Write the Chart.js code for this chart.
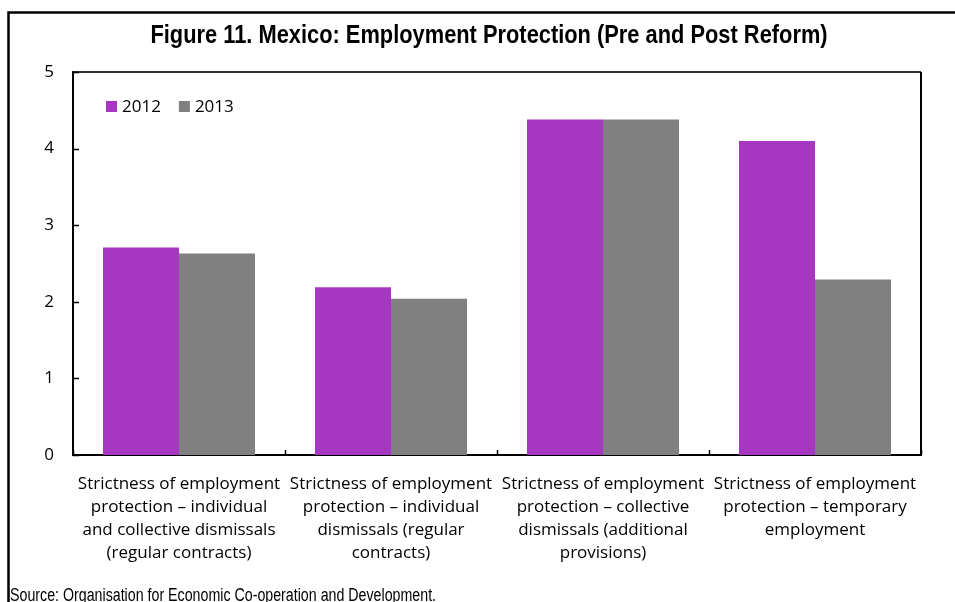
<!DOCTYPE html>
<html>
<head>
<meta charset="utf-8">
<title>Mexico: Employment Protection</title>
<script src="https://cdn.jsdelivr.net/npm/chart.js@4.4.1/dist/chart.umd.min.js"></script>
<style>
 html, body { margin: 0; padding: 0; background: #fff; }
 #wrap { width: 955px; height: 602px; }
</style>
</head>
<body>
<div id="wrap"><canvas id="eplChart" width="955" height="602"></canvas></div>
<script>
// OECD employment protection indicators, Mexico
const categories = [
 ['Strictness of employment', 'protection \u2013 individual', 'and collective dismissals', '(regular contracts)'],
 ['Strictness of employment', 'protection \u2013 individual', 'dismissals (regular', 'contracts)'],
 ['Strictness of employment', 'protection \u2013 collective', 'dismissals (additional', 'provisions)'],
 ['Strictness of employment', 'protection \u2013 temporary', 'employment']
];
const seriesNames = ['2012', '2013'];
const values2012 = [2.71, 2.19, 4.38, 4.10];
const values2013 = [2.63, 2.04, 4.38, 2.29];
const yMin = 0;
const yMax = 5;
const yStep = 1;

const titleText = 'Figure 11. Mexico: Employment Protection (Pre and Post Reform)';
const sourceText = 'Source: Organisation for Economic Co-operation and Development.';

const sansFont = '"Liberation Sans", Arial, sans-serif';
const bodyFont = '"Open Sans", "Noto Sans", sans-serif';

// no narrow face installed, so squeeze the regular one
function narrowText(ctx, text, x, y, squeeze) {
 ctx.save();
 ctx.translate(x, y);
 ctx.scale(squeeze, 1);
 ctx.fillText(text, 0, 0);
 ctx.restore();
}

// frame round the figure and the plot, inward tick marks, legend, title and source line
const figureDecor = {
 id: 'figureDecor',
 afterDraw(chart) {
  const ctx = chart.ctx;
  const area = chart.chartArea;
  const x = chart.scales.x;
  const y = chart.scales.y;
  ctx.save();

  // outer box (runs off the right and bottom edge)
  ctx.strokeStyle = '#000';
  ctx.lineWidth = 2.5;
  ctx.strokeRect(8.5, 12.5, chart.width + 20, chart.height + 20);

  // plot frame
  ctx.lineWidth = 2;
  ctx.strokeStyle = '#333';
  ctx.beginPath();
  ctx.moveTo(area.left, area.top);
  ctx.lineTo(area.right, area.top);
  ctx.stroke();
  ctx.strokeStyle = '#000';
  ctx.beginPath();
  ctx.moveTo(area.right, area.top);
  ctx.lineTo(area.right, area.bottom);
  ctx.stroke();

  // y ticks pointing into the plot
  ctx.lineWidth = 1.5;
  y.ticks.forEach(t => {
   const py = Math.round(y.getPixelForValue(t.value)) + 0.5;
   ctx.beginPath();
   ctx.moveTo(area.left, py);
   ctx.lineTo(area.left + 6, py);
   ctx.stroke();
  });

  // x ticks on category boundaries
  for (let i = 0; i <= categories.length; i++) {
   const px = Math.round(x.getPixelForValue(i - 0.5)) + 0.5;
   ctx.beginPath();
   ctx.moveTo(px, area.bottom);
   ctx.lineTo(px, area.bottom - 5);
   ctx.stroke();
  }

  // legend inside the plot, top left
  ctx.font = '17px ' + bodyFont;
  ctx.textBaseline = 'middle';
  ctx.textAlign = 'left';
  let lx = area.left + 33;
  const ly = area.top + 34;
  chart.data.datasets.forEach(ds => {
   ctx.fillStyle = ds.backgroundColor;
   ctx.fillRect(lx, ly - 5, 11, 11);
   ctx.fillStyle = '#000';
   ctx.fillText(ds.label, lx + 16, ly + 1);
   lx += 16 + ctx.measureText(ds.label).width + 18;
  });

  // title
  ctx.fillStyle = '#000';
  ctx.textBaseline = 'alphabetic';
  ctx.textAlign = 'center';
  ctx.font = 'bold 26px ' + sansFont;
  narrowText(ctx, titleText, 489, 43, 0.84);

  // source note
  ctx.textAlign = 'left';
  ctx.font = '18px ' + sansFont;
  narrowText(ctx, sourceText, 10, 601, 0.79);

  ctx.restore();
 }
};

const ctx = document.getElementById('eplChart').getContext('2d');
const eplChart = new Chart(ctx, {
 type: 'bar',
 data: {
  labels: categories,
  datasets: [
   {
    label: seriesNames[0],
    data: values2012,
    backgroundColor: '#a737c3',
    borderWidth: 0
   },
   {
    label: seriesNames[1],
    data: values2013,
    backgroundColor: '#808080',
    borderWidth: 0
   }
  ]
 },
 options: {
  responsive: false,
  animation: false,
  devicePixelRatio: 1,
  layout: {
   padding: { left: 33, right: 34, top: 72, bottom: 0 }
  },
  datasets: {
   bar: {
    categoryPercentage: 0.717,
    barPercentage: 1
   }
  },
  scales: {
   x: {
    grid: { display: false },
    border: { display: true, color: '#000', width: 2 },
    ticks: {
     color: '#000',
     font: { family: bodyFont, size: 17, lineHeight: 1.35 },
     padding: 10,
     maxRotation: 0,
     minRotation: 0,
     autoSkip: false
    },
    afterFit(scale) { scale.height = 147; }
   },
   y: {
    min: yMin,
    max: yMax,
    grid: { display: false },
    border: { display: true, color: '#000', width: 2 },
    ticks: {
     stepSize: yStep,
     color: '#000',
     font: { family: bodyFont, size: 17 },
     padding: 11
    },
    afterFit(scale) { scale.width = 40; }
   }
  },
  plugins: {
   legend: { display: false },
   tooltip: { enabled: false },
   title: { display: false }
  }
 },
 plugins: [figureDecor]
});
</script>
</body>
</html>
